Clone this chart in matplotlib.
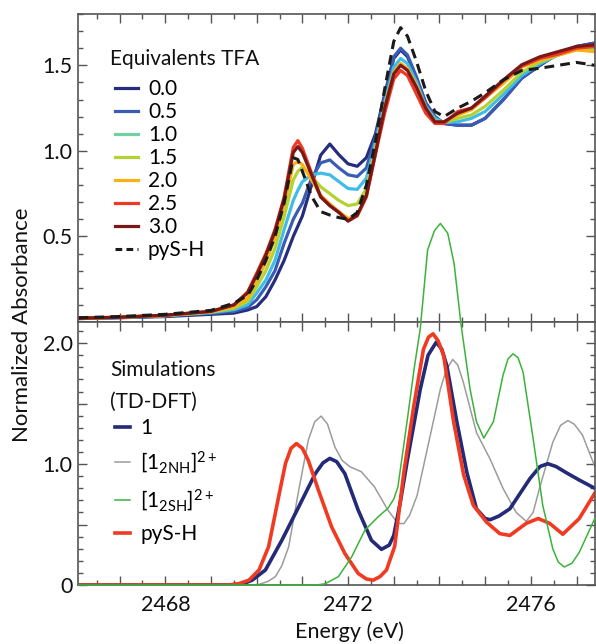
import matplotlib.pyplot as plt
from matplotlib.ticker import MultipleLocator, FuncFormatter
from matplotlib.lines import Line2D

plt.rcParams['font.family'] = ['Lato', 'DejaVu Sans']
plt.rcParams['mathtext.fontset'] = 'custom'
plt.rcParams['mathtext.rm'] = 'Lato'
plt.rcParams['mathtext.it'] = 'Lato:italic'
plt.rcParams['mathtext.bf'] = 'Lato:bold'

# ---- experimental spectra (top panel) ----
energy_exp = [2466.1, 2467.0, 2468.0, 2469.0, 2469.5, 2469.8, 2470.0, 2470.2, 2470.4,
              2470.6, 2470.8, 2470.9, 2471.0, 2471.2, 2471.4, 2471.6, 2471.8, 2472.0,
              2472.2, 2472.4, 2472.6, 2472.8, 2473.0, 2473.15, 2473.3, 2473.5, 2473.7,
              2473.9, 2474.1, 2474.4, 2474.7, 2475.0, 2475.4, 2475.8, 2476.2, 2476.6,
              2477.0, 2477.4]

tfa_00 = [0.02, 0.025, 0.032, 0.045, 0.052, 0.07, 0.09, 0.148, 0.245,
          0.36, 0.50, 0.56, 0.62, 0.80, 0.975, 1.04, 0.977, 0.924,
          0.91, 0.96, 1.10, 1.33, 1.54, 1.59, 1.55, 1.42, 1.28,
          1.20, 1.16, 1.15, 1.15, 1.19, 1.30, 1.425, 1.50, 1.57,
          1.61, 1.63]
tfa_05 = [0.02, 0.026, 0.035, 0.05, 0.062, 0.085, 0.13, 0.206, 0.30,
          0.46, 0.60, 0.65, 0.695, 0.84, 0.93, 0.947, 0.90, 0.86,
          0.85, 0.90, 1.08, 1.32, 1.55, 1.60, 1.56, 1.43, 1.28,
          1.20, 1.16, 1.15, 1.15, 1.19, 1.30, 1.425, 1.50, 1.57,
          1.61, 1.63]
tfa_10 = [0.022, 0.027, 0.037, 0.055, 0.072, 0.10, 0.17, 0.245, 0.36,
          0.54, 0.71, 0.77, 0.82, 0.86, 0.87, 0.86, 0.82, 0.78,
          0.775, 0.84, 1.05, 1.28, 1.49, 1.54, 1.51, 1.40, 1.26,
          1.19, 1.165, 1.17, 1.19, 1.23, 1.33, 1.44, 1.51, 1.56,
          1.60, 1.60]
tfa_15 = [0.022, 0.028, 0.038, 0.058, 0.08, 0.12, 0.206, 0.30, 0.43,
          0.615, 0.83, 0.88, 0.905, 0.85, 0.79, 0.75, 0.71, 0.68,
          0.69, 0.78, 1.02, 1.26, 1.46, 1.51, 1.48, 1.38, 1.25,
          1.175, 1.165, 1.19, 1.21, 1.26, 1.355, 1.46, 1.52, 1.56,
          1.59, 1.59]
tfa_20 = [0.022, 0.028, 0.038, 0.06, 0.09, 0.14, 0.24, 0.35, 0.49,
          0.68, 0.92, 0.937, 0.92, 0.83, 0.74, 0.69, 0.645, 0.605,
          0.62, 0.74, 1.00, 1.25, 1.46, 1.51, 1.48, 1.38, 1.25,
          1.17, 1.17, 1.21, 1.24, 1.31, 1.395, 1.49, 1.53, 1.56,
          1.59, 1.58]
tfa_25 = [0.022, 0.028, 0.04, 0.062, 0.10, 0.175, 0.285, 0.40, 0.54,
          0.73, 1.02, 1.06, 1.015, 0.87, 0.735, 0.68, 0.64, 0.59,
          0.62, 0.73, 0.98, 1.22, 1.42, 1.47, 1.44, 1.33, 1.22,
          1.16, 1.16, 1.23, 1.25, 1.31, 1.41, 1.495, 1.54, 1.565,
          1.60, 1.61]
tfa_30 = [0.022, 0.028, 0.04, 0.062, 0.10, 0.17, 0.275, 0.39, 0.53,
          0.72, 0.99, 1.025, 0.99, 0.86, 0.73, 0.68, 0.64, 0.59,
          0.625, 0.74, 0.99, 1.25, 1.45, 1.50, 1.47, 1.37, 1.25,
          1.17, 1.17, 1.22, 1.25, 1.32, 1.415, 1.503, 1.55, 1.58,
          1.61, 1.62]
pysh_exp = [0.025, 0.032, 0.045, 0.068, 0.11, 0.155, 0.245, 0.36, 0.50,
            0.695, 0.96, 0.95, 0.88, 0.735, 0.645, 0.625, 0.61, 0.60,
            0.64, 0.80, 1.06, 1.36, 1.64, 1.72, 1.67, 1.52, 1.35,
            1.23, 1.20, 1.25, 1.29, 1.34, 1.415, 1.47, 1.483, 1.50,
            1.517, 1.50]

tfa_labels = ['0.0', '0.5', '1.0', '1.5', '2.0', '2.5', '3.0']
tfa_colors = ['#262d7e', '#3b5cb4', '#3fbde8', '#b3d233', '#f9b215', '#ee3a23', '#7a1818']
tfa_legend_colors = ['#262d7e', '#3b5cb4', '#74cfa2', '#b3d233', '#f9b215', '#ee3a23', '#7a1818']

# ---- TD-DFT simulations (bottom panel) ----
e_sim1 = [2466.1, 2469.4, 2469.7, 2469.9, 2470.19, 2470.55, 2470.92, 2471.28, 2471.45,
          2471.6, 2471.75, 2471.93, 2472.22, 2472.51, 2472.73, 2472.9, 2473.0, 2473.15,
          2473.29, 2473.45, 2473.58, 2473.75, 2473.93, 2474.05, 2474.16, 2474.38, 2474.6,
          2474.81, 2475.0, 2475.11, 2475.3, 2475.54, 2475.98, 2476.2, 2476.37, 2476.55,
          2476.77, 2477.05, 2477.4]
sim1 = [0, 0, 0.01, 0.04, 0.124, 0.37, 0.647, 0.92, 1.01,
        1.047, 1.02, 0.92, 0.62, 0.37, 0.295, 0.33, 0.41, 0.70,
        1.017, 1.35, 1.62, 1.90, 2.008, 1.95, 1.815, 1.35, 0.93,
        0.63, 0.55, 0.54, 0.57, 0.63, 0.88, 0.98, 1.003, 0.98,
        0.93, 0.87, 0.80]

e_sim_pysh = [2466.1, 2469.4, 2469.6, 2469.83, 2470.05, 2470.26, 2470.48, 2470.63, 2470.75,
              2470.87, 2471.0, 2471.13, 2471.35, 2471.64, 2471.93, 2472.22, 2472.4, 2472.55,
              2472.7, 2472.84, 2473.02, 2473.22, 2473.44, 2473.65, 2473.76, 2473.86, 2473.97,
              2474.09, 2474.31, 2474.53, 2474.74, 2475.03, 2475.32, 2475.54, 2475.9, 2476.16,
              2476.41, 2476.7, 2477.06, 2477.4]
sim_pysh = [0, 0, 0.01, 0.04, 0.124, 0.317, 0.73, 1.006, 1.13,
            1.17, 1.13, 1.03, 0.785, 0.48, 0.26, 0.096, 0.05, 0.04,
            0.07, 0.124, 0.32, 0.93, 1.485, 1.95, 2.05, 2.077, 2.02,
            1.90, 1.35, 0.91, 0.66, 0.52, 0.425, 0.41, 0.51, 0.55,
            0.51, 0.42, 0.55, 0.76]

e_sim_2nh = [2466.1, 2469.9, 2470.05, 2470.25, 2470.41, 2470.55, 2470.7, 2470.92, 2471.13,
             2471.27, 2471.41, 2471.55, 2471.71, 2471.87, 2472.04, 2472.29, 2472.58, 2472.87,
             2473.09, 2473.22, 2473.35, 2473.51, 2473.8, 2474.02, 2474.15, 2474.29, 2474.4,
             2474.52, 2474.81, 2475.11, 2475.39, 2475.68, 2475.9, 2476.05, 2476.19, 2476.48,
             2476.65, 2476.81, 2476.95, 2477.13, 2477.4]
sim_2nh = [0, 0, 0.005, 0.03, 0.07, 0.16, 0.317, 0.785, 1.2,
           1.35, 1.397, 1.33, 1.143, 1.03, 0.978, 0.937, 0.81, 0.62,
           0.51, 0.507, 0.58, 0.74, 1.24, 1.62, 1.78, 1.865, 1.82,
           1.68, 1.26, 1.04, 0.80, 0.60, 0.526, 0.60, 0.80, 1.18,
           1.32, 1.36, 1.33, 1.24, 0.98]

e_sim_2sh = [2466.1, 2471.3, 2471.5, 2471.79, 2472.08, 2472.37, 2472.66, 2472.87, 2473.0,
             2473.09, 2473.29, 2473.45, 2473.58, 2473.74, 2473.89, 2474.02, 2474.18, 2474.32,
             2474.47, 2474.67, 2474.81, 2474.97, 2475.18, 2475.39, 2475.5, 2475.61, 2475.72,
             2475.83, 2476.05, 2476.26, 2476.48, 2476.6, 2476.73, 2476.9, 2477.06, 2477.4]
sim_2sh = [0, 0, 0.01, 0.07, 0.234, 0.455, 0.565, 0.634, 0.71,
           0.81, 1.35, 1.80, 2.12, 2.77, 2.93, 2.99, 2.91, 2.66,
           2.16, 1.62, 1.35, 1.215, 1.35, 1.733, 1.87, 1.912, 1.88,
           1.76, 1.21, 0.66, 0.30, 0.19, 0.149, 0.18, 0.27, 0.55]

# ---- figure ----
fig = plt.figure(figsize=(5.96, 6.44), dpi=100)
ax1 = fig.add_axes([0.131, 0.5, 0.867, 0.4783])
ax2 = fig.add_axes([0.131, 0.0916, 0.867, 0.4084], sharex=ax1)

tfa_series = [tfa_00, tfa_05, tfa_10, tfa_15, tfa_20, tfa_25, tfa_30]
for vals, c in zip(tfa_series, tfa_colors):
    ax1.plot(energy_exp, vals, color=c, lw=2.3, solid_joinstyle='round')
ax1.plot(energy_exp, pysh_exp, color='#1a1a1a', lw=2.2, dashes=(3.2, 2.0))

# simulations; the [1_2SH] curve runs above the panel into the top one
ax2.plot(e_sim_2nh, sim_2nh, color='#9c9c9c', lw=1.1)
ax2.plot(e_sim_2sh, sim_2sh, color='#3bb33b', lw=1.1, clip_on=False, zorder=5)
ax2.plot(e_sim1, sim1, color='#232a78', lw=2.6)
ax2.plot(e_sim_pysh, sim_pysh, color='#f03a22', lw=2.6)

ax1.set_xlim(2466.09, 2477.4)
ax1.set_ylim(0, 1.8)
ax2.set_ylim(0, 2.175)

spine_c = '#555555'
for ax in (ax1, ax2):
    for s in ax.spines.values():
        s.set_color(spine_c)
        s.set_linewidth(1.2)
    ax.tick_params(which='both', direction='in', top=True, right=True,
                   color=spine_c, width=1.0, labelsize=15.5, labelcolor='#111111')
    ax.tick_params(which='major', length=6.5)
    ax.tick_params(which='minor', length=3.3)
    ax.xaxis.set_major_locator(MultipleLocator(1))
    ax.xaxis.set_minor_locator(MultipleLocator(0.5))
    ax.yaxis.set_major_locator(MultipleLocator(0.5))
    ax.yaxis.set_minor_locator(MultipleLocator(0.1))

ax1.tick_params(axis='x', labelbottom=False)
ax1.tick_params(axis='y', pad=4)
ax2.tick_params(axis='y', pad=4)
ax2.tick_params(axis='x', pad=7)

ax1.yaxis.set_major_formatter(FuncFormatter(
    lambda v, p: '%.1f' % v if round(v, 2) in (0.5, 1.0, 1.5) else ''))
ax2.yaxis.set_major_formatter(FuncFormatter(
    lambda v, p: {0.0: '0', 1.0: '1.0', 2.0: '2.0'}.get(round(v, 2), '')))
ax2.xaxis.set_major_formatter(FuncFormatter(
    lambda v, p: '%d' % round(v) if round(v) % 4 == 0 else ''))

fig.text(0.037, 0.495, 'Normalized Absorbance', rotation=90, ha='center', va='center',
         fontsize=16, color='#111111')
fig.text(0.586, 0.019, 'Energy (eV)', ha='center', va='center', fontsize=15.5,
         color='#111111')

# legends (titles written as plain text above the entries)
ax1.text(0.0618, 0.854, 'Equivalents TFA', transform=ax1.transAxes,
         ha='left', va='center', fontsize=15, color='#111111')
h1 = [Line2D([], [], color=c, lw=2.3) for c in tfa_legend_colors]
h1.append(Line2D([], [], color='#1a1a1a', lw=2.2, dashes=(2.2, 1.4)))
leg1 = ax1.legend(h1, tfa_labels + ['pyS-H'], loc='upper left',
                  bbox_to_anchor=(0.0714, 0.789), frameon=False,
                  fontsize=15, handlelength=1.1, handletextpad=0.48,
                  labelspacing=0.145, borderpad=0, borderaxespad=0)

ax2.text(0.0618, 0.8175, 'Simulations', transform=ax2.transAxes,
         ha='left', va='center', fontsize=15, color='#111111')
ax2.text(0.0618, 0.696, '(TD-DFT)', transform=ax2.transAxes,
         ha='left', va='center', fontsize=15, color='#111111')
h2 = [Line2D([], [], color='#232a78', lw=2.6),
      Line2D([], [], color='#9c9c9c', lw=1.1),
      Line2D([], [], color='#3bb33b', lw=1.1),
      Line2D([], [], color='#f03a22', lw=2.6)]
lab2 = ['1', r'[1$_{\mathregular{2NH}}$]$^{\mathregular{2+}}$',
        r'[1$_{\mathregular{2SH}}$]$^{\mathregular{2+}}$', 'pyS-H']
leg2 = ax2.legend(h2, lab2, loc='upper left', bbox_to_anchor=(0.0714, 0.635),
                  frameon=False, fontsize=15, handlelength=0.72, handletextpad=0.5,
                  labelspacing=0.55, borderpad=0, borderaxespad=0)

fig.savefig('out.png', dpi=100)
